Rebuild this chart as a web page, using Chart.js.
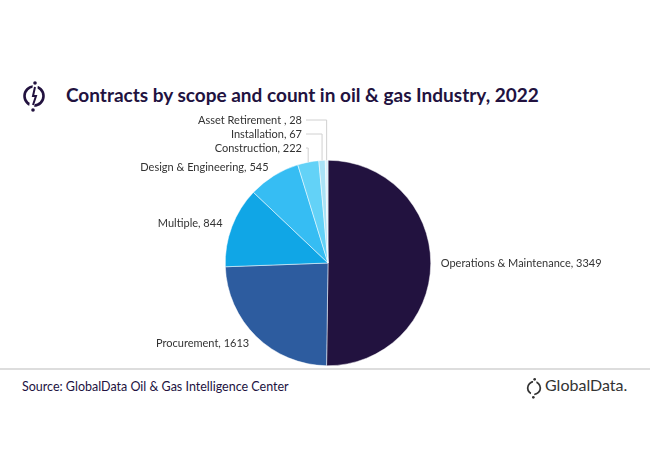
<!DOCTYPE html>
<html><head><meta charset="utf-8">
<script src="https://cdn.jsdelivr.net/npm/chart.js@4"></script>
<style>
body{margin:0;width:650px;height:450px;background:#fff;font-family:Lato,"Open Sans",sans-serif;position:relative;overflow:hidden}
#wrap{position:absolute;left:0;top:0;width:650px;height:450px}
.title{position:absolute;left:66px;top:83px;font-size:19px;font-weight:bold;color:#22123f;white-space:nowrap}
.src{position:absolute;left:22px;top:379px;font-size:12.5px;color:#22123f}
.rule{position:absolute;left:0;top:368px;width:650px;height:2px;background:#ddd}
.gd{position:absolute;left:545px;top:375px;font-size:16px;color:#333}
</style></head><body>
<svg style="position:absolute;left:22px;top:79px" width="24" height="34" viewBox="0 0 24 34">
<circle cx="12" cy="17" r="9.5" fill="none" stroke="#22123f" stroke-width="2.6"/>
<path d="M14 3 L9 31" stroke="#fff" stroke-width="5"/>
<path d="M13 8 L11 17 L14 17 L11 26" fill="none" stroke="#22123f" stroke-width="2"/>
<circle cx="13" cy="4" r="1.8" fill="#22123f"/><circle cx="11" cy="31" r="1.8" fill="#22123f"/>
</svg>
<div class="title">Contracts by scope and count in oil &amp; gas Industry, 2022</div>
<div class="rule"></div>
<div class="src">Source: GlobalData Oil &amp; Gas Intelligence Center</div>
<svg style="position:absolute;left:526px;top:376px" width="16" height="24" viewBox="0 0 24 34">
<circle cx="12" cy="17" r="9.5" fill="none" stroke="#333" stroke-width="2.6"/>
<path d="M14 3 L9 31" stroke="#fff" stroke-width="5"/>
<circle cx="13" cy="4" r="2" fill="#333"/><circle cx="11" cy="31" r="2" fill="#333"/>
</svg>
<div class="gd">GlobalData.</div>
<div id="wrap"><canvas id="c"></canvas></div>
<script>
const labels = ['Operations & Maintenance','Procurement','Multiple','Design & Engineering','Construction','Installation','Asset Retirement '];
const counts = [3349,1613,844,545,222,67,28];
const colors = ['#22123f','#2d5c9f','#10a6e6','#36bdf3','#63d2f7','#a9e2f6','#d8f1fb'];

const labelPlugin = {
  id:'sliceLabels',
  afterDatasetsDraw(chart){
    const ctx = chart.ctx;
    const arcs = chart.getDatasetMeta(0).data;
    ctx.save();
    ctx.font = '11px Lato, "Open Sans", sans-serif';
    ctx.fillStyle = '#333';
    ctx.textBaseline = 'middle';
    const rowY = {4:148, 5:134, 6:120};
    arcs.forEach((a,i) => {
      const mid = (a.startAngle + a.endAngle)/2;
      const r = a.outerRadius;
      const txt = labels[i] + ', ' + counts[i];
      if (rowY[i] !== undefined) {
        const ex = a.x + Math.cos(mid)*r, ey = a.y + Math.sin(mid)*r;
        const y = rowY[i];
        ctx.strokeStyle = '#d0d0d0'; ctx.lineWidth = 1;
        ctx.beginPath(); ctx.moveTo(ex, ey); ctx.lineTo(ex, y); ctx.lineTo(306, y); ctx.stroke();
        ctx.textAlign = 'right';
        ctx.fillText(txt, 302, y);
      } else {
        const x = a.x + Math.cos(mid)*(r+10), y = a.y + Math.sin(mid)*(r+10);
        ctx.textAlign = Math.cos(mid) >= 0 ? 'left' : 'right';
        ctx.fillText(txt, x, y);
      }
    });
    ctx.restore();
  }
};

new Chart(document.getElementById('c').getContext('2d'), {
  type:'pie',
  data:{ labels, datasets:[{ data:counts, backgroundColor:colors, borderColor:'#fff', borderWidth:0.5 }] },
  options:{ responsive:true, maintainAspectRatio:false, animation:false,
    layout:{ padding:{ left:225, right:219, top:160, bottom:84 } },
    plugins:{ legend:{display:false}, tooltip:{enabled:false} } },
  plugins:[labelPlugin]
});
</script>
</body></html>
